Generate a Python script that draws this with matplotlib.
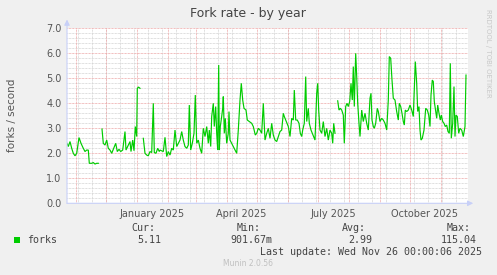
import matplotlib
matplotlib.use('Agg')
import matplotlib.pyplot as plt
import matplotlib.dates as mdates
from matplotlib.patches import Rectangle
import numpy as np
import pandas as pd

# ---------------- data ----------------
start_date = pd.Timestamp('2024-10-23 08:00')
end_date = start_date + pd.Timedelta(days=401)

# day offsets from start_date, None in forks_rate marks a gap (no data)
day_offsets = [
    0, 1.3, 3, 4.7, 6.3, 8, 9.7, 12, 14, 16.3, 18, 19.7, 21.3, 22.3, 24.7, 26.3, 28, 29.7, 31.3,
    33,
    35, 36.3, 38, 39.7, 41.3, 43, 44.7, 46.3, 48.7, 50.3, 52, 53.7, 55.7, 58, 59, 61.3, 63, 64,
    65.7, 67, 68.3, 69.7, 70.3, 71.5, 73,
    74.5,
    76.3, 78, 79.7, 81.3, 83, 84.7, 86.3, 87.3, 89, 90.7, 92.3,
    93, 96.3, 98, 99.7, 101.3, 103, 104.7, 106.3, 108, 109.7, 111.3, 113, 114.7, 116.3, 118,
    119.7, 121.3, 122.3, 123.7, 125.3, 127, 128.3, 129.7, 131.3, 133, 134.7, 136.3, 138, 139.7,
    141.3, 142.3, 143.7, 144.7, 146.3, 147.3, 148.7, 149.7, 150.7, 151.7, 152.3, 153.3, 154.7,
    155.7, 156.3, 157.3, 158.3, 159.7, 161.3, 162, 163, 164.7, 166.3, 168, 169.7, 171.3, 173,
    174.3, 175.7, 177, 179, 180.3, 182.3, 184.7, 186.3, 188.3, 189.7, 191.3, 193, 194.7, 196.3,
    198, 199.7, 201.3, 203, 204.7, 206.3, 208, 209.7, 211.3, 213, 214.7, 216.3, 217.3, 218.7,
    220, 221.3, 223, 224.7, 226.3, 227.3, 228.7, 230.3, 232, 233.3, 234.7, 235.7, 237.3, 238.7,
    239.7, 241.3, 242.3, 244, 245.3, 246.7, 248, 249.7, 250.7, 251.7, 253, 254.7, 256.3, 258,
    259.7, 261.3, 263, 264.7, 265.7, 266.7, 268,
    269.3,
    270.7, 272, 273.3, 274.7, 276.3, 277.3, 278.7, 280, 281.3, 282.7, 284, 285.3, 286.3, 287.3,
    288.7, 289.7, 290.7, 292, 293, 294.7, 296.3, 298, 299.7, 301.3,
    303, 304, 305, 306.3, 307.3, 308.7, 310.3, 311.3, 313, 314.7, 316.3, 318, 319.7, 321.3,
    322.3, 323.7, 325, 326.3, 328, 329.7, 331.3, 332.3, 333.7, 335, 336.3, 337.3, 338.3, 339.7,
    341.3, 343, 344.7, 346.3, 347.3, 348.3, 349.7, 350.7, 352, 353, 354, 355.3, 357, 358.7,
    360.3, 361.7, 363, 364, 365.3, 366.3, 367.3, 368.7, 369.7, 370.7, 372, 373.3, 374.3, 375.7,
    377, 378.3, 379.7, 381, 382.3, 383.3, 384.3, 385.7, 387, 388, 389, 390.3, 391.7, 393,
    394.7, 396.3, 398, 399,
]
forks_rate = [
    2.4, 2.27, 2.47, 2.2, 2.0, 1.9, 2.0, 2.63, 2.4, 2.2, 2.07, 2.13, 2.13, 1.6, 1.6, 1.63, 1.57, 1.6, 1.6,
    None,
    2.97, 2.4, 2.33, 2.53, 2.2, 2.13, 2.0, 2.16, 2.4, 2.07, 2.16, 2.07, 2.13, 2.87, 2.13, 2.33, 2.47, 2.07,
    2.53, 2.1, 3.07, 2.67, 4.6, 4.65, 4.6,
    None,
    2.6, 2.0, 1.93, 1.9, 2.07, 2.03, 4.0, 2.03, 2.0, 2.2, 2.07,
    2.13, 2.07, 2.64, 1.87, 2.07, 1.93, 2.2, 2.13, 2.93, 2.27, 2.4, 2.53, 2.87, 2.53, 2.27,
    2.2, 2.33, 3.93, 2.13, 2.4, 2.8, 4.33, 2.4, 2.53, 2.2, 2.0, 3.0, 2.67, 3.07,
    2.4, 2.93, 2.27, 3.47, 4.0, 3.07, 3.87, 2.8, 2.13, 5.53, 2.13, 3.07, 3.47,
    3.8, 4.27, 2.8, 3.4, 2.4, 2.8, 3.67, 2.53, 2.4, 2.27, 2.13, 2.0, 2.93, 4.13,
    4.8, 4.13, 3.8, 3.73, 3.33, 3.27, 3.2, 3.07, 2.73, 2.8, 3.0, 2.93, 2.8, 4.0,
    2.53, 2.8, 3.0, 2.6, 3.2, 2.73, 2.53, 2.47, 2.67, 2.87, 2.93, 3.6, 3.47, 3.33,
    3.2, 3.07, 2.67, 3.4, 3.33, 4.53, 3.33, 3.33, 3.2, 2.8, 2.67, 2.93, 3.2, 5.07,
    3.27, 3.8, 3.2, 2.93, 2.8, 2.67, 2.53, 4.4, 4.8, 3.73, 2.93, 2.8, 3.27, 2.67,
    3.0, 2.53, 2.93, 2.8, 2.4, 3.2, 2.8,
    None,
    4.1, 3.73, 3.8, 3.73, 3.53, 2.4, 3.87, 4.0, 3.87, 4.07, 4.8, 4.13, 5.47, 3.87,
    6.0, 5.07, 4.0, 3.2, 2.67, 3.73, 3.27, 3.6, 3.2, 2.93,
    4.2, 4.4, 3.33, 3.07, 3.0, 3.2, 3.8, 3.67, 3.27, 3.4, 3.33, 3.2, 2.93, 4.13,
    5.87, 5.8, 4.93, 4.2, 4.13, 3.67, 3.33, 4.0, 3.87, 3.6, 3.27, 3.13, 3.73, 3.67,
    3.73, 3.93, 3.73, 3.47, 4.53, 5.67, 4.8, 3.67, 3.87, 2.93, 2.53, 2.6, 2.93, 3.8,
    3.73, 3.53, 3.07, 4.33, 4.93, 4.87, 4.07, 3.67, 3.4, 3.93, 3.6, 3.33, 3.53, 3.27,
    3.2, 3.07, 3.13, 2.87, 2.8, 5.6, 2.6, 3.2, 4.67, 2.67, 3.53, 3.47, 2.8, 3.0,
    2.93, 2.67, 3.07, 5.13,
]

y_ticks = [0, 1, 2, 3, 4, 5, 6, 7]
y_tick_labels = ['0.0', '1.0', '2.0', '3.0', '4.0', '5.0', '6.0', '7.0']
x_tick_labels = ['January 2025', 'April 2025', 'July 2025', 'October 2025']
x_tick_dates = ['2025-01-16', '2025-04-16', '2025-07-17', '2025-10-16']

series_name = 'forks'
stat_headers = ['Cur:', 'Min:', 'Avg:', 'Max:']
stat_values = ['5.11', '901.67m', '2.99', '115.04']
last_update = 'Last update: Wed Nov 26 00:00:06 2025'

# ---------------- figure ----------------
W, H = 497, 275
DPI = 100
BACK = '#F0F0F0'
FONT = '#555555'
AXIS = '#C8D0F8'
LINE = '#00CC00'
MAJOR = '#EDA8A8'
MINOR = '#D4D4D4'

fig = plt.figure(figsize=(W / DPI, H / DPI), dpi=DPI, facecolor=BACK)

px_left, px_right, px_top, px_bottom = 67, 468, 28.3, 203.3
ax = fig.add_axes([px_left / W, 1 - px_bottom / H,
                   (px_right - px_left) / W, (px_bottom - px_top) / H])
ax.set_facecolor('#FFFFFF')
for s in ax.spines.values():
    s.set_visible(False)

ax.set_xlim(mdates.date2num(start_date), mdates.date2num(end_date))
ax.set_ylim(0, 7)

dot = (0, (0.72, 0.72))
# minor horizontal grid
for v in np.arange(0.2, 7.0, 0.2):
    if abs(v - round(v)) > 1e-6:
        ax.axhline(v, color=MINOR, lw=0.72, ls=dot, zorder=1)
# minor vertical grid (every two weeks)
d = pd.Timestamp('2024-11-03')
while d < end_date:
    ax.axvline(mdates.date2num(d), color=MINOR, lw=0.72, ls=dot, zorder=1)
    d += pd.Timedelta(days=14)
# major grid
for v in y_ticks:
    ax.axhline(v, color=MAJOR, lw=0.72, ls=dot, zorder=2)
for m in pd.date_range('2024-11-01', end_date, freq='MS'):
    ax.axvline(mdates.date2num(m), color=MAJOR, lw=0.72, ls=dot, zorder=2)

# data
dates = [start_date + pd.Timedelta(days=o) for o in day_offsets]
vals = np.array([np.nan if v is None else v for v in forks_rate], dtype=float)
ax.plot(mdates.date2num(dates), vals, color=LINE, lw=0.85, zorder=4,
        solid_joinstyle='miter')

# axes with arrows
ax.annotate('', xy=(0, 1.05), xytext=(0, 0), xycoords='axes fraction',
            arrowprops=dict(arrowstyle='-|>', color=AXIS, lw=0.8,
                            mutation_scale=8, shrinkA=0, shrinkB=0),
            annotation_clip=False, zorder=5)
ax.annotate('', xy=(1.013, 0), xytext=(0, 0), xycoords='axes fraction',
            arrowprops=dict(arrowstyle='-|>', color=AXIS, lw=0.8,
                            mutation_scale=8, shrinkA=0, shrinkB=0),
            annotation_clip=False, zorder=5)

ax.set_yticks(y_ticks)
ax.set_yticklabels(y_tick_labels)
ax.set_xticks([mdates.date2num(pd.Timestamp(t)) for t in x_tick_dates])
ax.set_xticklabels(x_tick_labels)
ax.tick_params(axis='both', length=0, labelsize=7, labelcolor=FONT)
ax.tick_params(axis='y', pad=4)
ax.tick_params(axis='x', pad=4)

# texts
fig.text(248 / W, 1 - 13 / H, 'Fork rate - by year', ha='center', va='center',
         fontsize=9, color='#444444')
fig.text(12 / W, 1 - 115 / H, 'forks / second', rotation=90, ha='center',
         va='center', fontsize=7.5, color=FONT)
fig.text(488 / W, 1 - 53 / H, 'RRDTOOL / TOBI OETIKER', rotation=270,
         ha='center', va='center', fontsize=5, color='#C8C8C8')

mono = 'DejaVu Sans Mono'
fs = 7.2
hdr_x = [131.7, 236.7, 342, 446.7]
val_x = [137, 230.7, 348, 441]
for hx, h in zip(hdr_x, stat_headers):
    fig.text(hx / W, 1 - 227.7 / H, h, ha='left', va='center', family=mono,
             fontsize=fs, color='#444444')
for vx, v in zip(val_x, stat_values):
    fig.text(vx / W, 1 - 240 / H, v, ha='left', va='center', family=mono,
             fontsize=fs, color='#444444')
fig.text(26.7 / W, 1 - 240 / H, series_name, ha='left', va='center', family=mono,
         fontsize=fs, color='#444444')
fig.patches.append(Rectangle((14 / W, 1 - 243 / H), 6 / W, 6 / H,
                             transform=fig.transFigure, facecolor=LINE,
                             edgecolor='none'))
fig.text(482.3 / W, 1 - 251.7 / H, last_update, ha='right', va='center',
         family=mono, fontsize=fs, color='#444444')
fig.text(248 / W, 1 - 264 / H, 'Munin 2.0.56', ha='center', va='center',
         fontsize=5.5, color='#C0C0C0')

fig.savefig('out.png', dpi=DPI, facecolor=BACK)
